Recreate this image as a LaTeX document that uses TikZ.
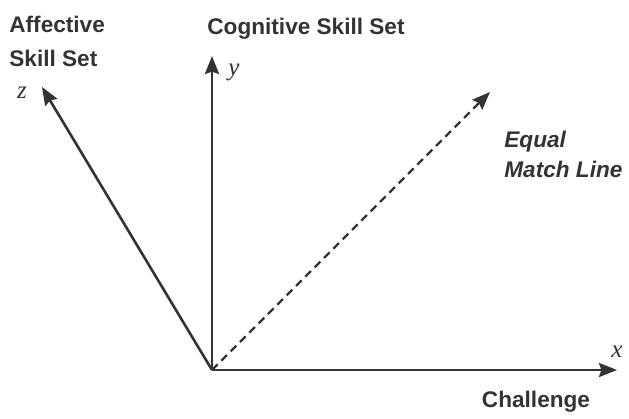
\documentclass[tikz,border=0pt]{standalone}
\usepackage{fontspec}
\setmainfont{Liberation Sans}
\newfontfamily\axfont{Liberation Serif}
\usetikzlibrary{arrows.meta}
\definecolor{cInk}{HTML}{333333}

\begin{document}
\begin{tikzpicture}[
  x=0.5pt, y=-0.5pt,
  font=\fontsize{11.3}{17}\selectfont\bfseries,
  lbl/.style={text=cInk, inner sep=0pt, align=left},
  axl/.style={text=cInk, inner sep=0pt, font=\fontsize{12.5}{14}\selectfont\axfont\itshape},
  axis/.style={-{Stealth[length=9pt, width=7pt, inset=1.2pt]}, line width=1.3pt, draw=cInk},
  diag/.style={axis, line width=1.1pt, dash pattern=on 4pt off 2.6pt}
]
\useasboundingbox (0,0) rectangle (629,419);

% END POINTS
\coordinate (o) at (212,370);
\coordinate (xt) at (617,370);
\coordinate (yt) at (212,56);
\coordinate (zt) at (42,87);
\coordinate (et) at (490,92);

% AXES
\draw[axis] (o) -- (xt);
\draw[axis] (o) -- (yt);
\draw[axis] (o) -- (zt);
\draw[diag] (o) -- (et);

% AXIS LETTERS
\node[axl] (xl) at (617,352) {x};
\node[axl] (yl) at (234,72) {y};
\node[axl] (zl) at (22,93) {z};

% LABELS
\node[lbl, anchor=west] (aff) at (9,41) {Affective\\Skill Set};
\node[lbl] (cog) at (306,29) {Cognitive Skill Set};
\node[lbl] (chal) at (536,402) {Challenge};
\node[lbl, anchor=west, font=\fontsize{11.3}{15}\selectfont\bfseries\itshape] (eq) at (504,154) {Equal\\Match Line};

\end{tikzpicture}
\end{document}
